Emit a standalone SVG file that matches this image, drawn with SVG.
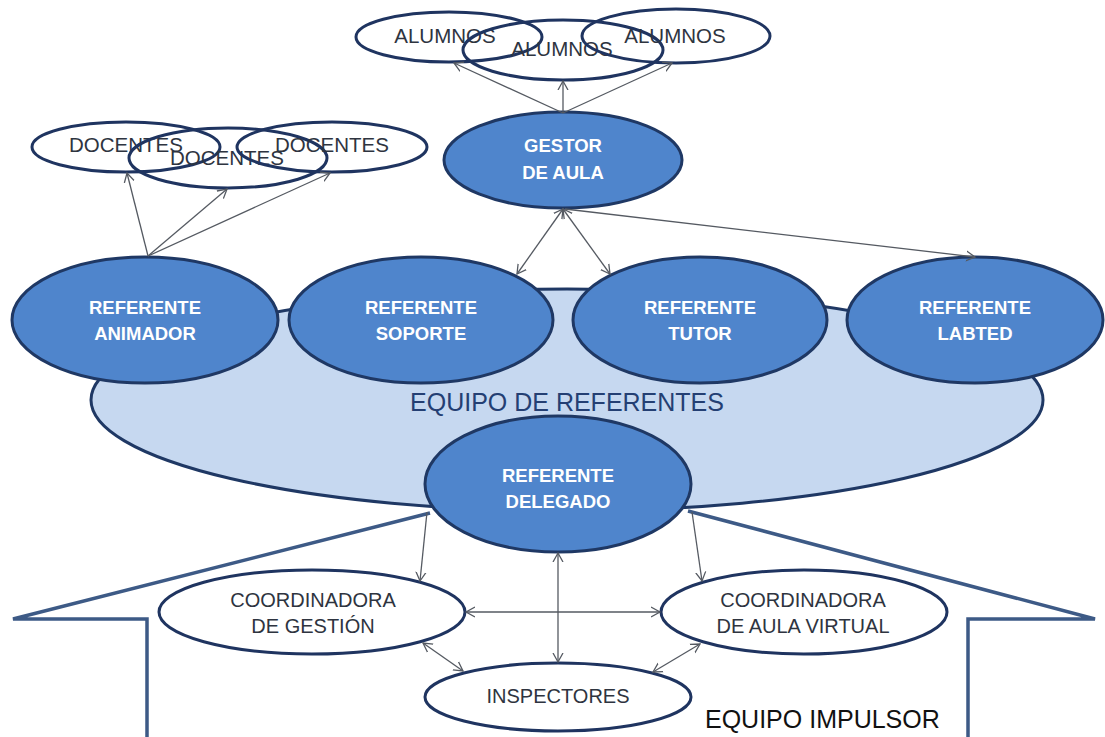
<svg xmlns="http://www.w3.org/2000/svg" width="1105" height="737" viewBox="0 0 1105 737">
<style>
.outline{fill:none;stroke:#1F3460;stroke-width:3}
.white{fill:#FFFFFF;stroke:#1F3460;stroke-width:3}
.blue{fill:#4F85CC;stroke:#1F3864;stroke-width:3}
.bg{fill:#C6D8F0;stroke:#1F3864;stroke-width:3}
.imp{fill:none;stroke:#3D5A86;stroke-width:3.5;stroke-linejoin:miter}
.lbl{font-family:"Liberation Sans",Arial,sans-serif;font-size:20.5px;fill:#2E3440;text-anchor:middle}
.lbls{font-family:"Liberation Sans",Arial,sans-serif;font-size:20px;fill:#2E3440;text-anchor:middle}
.wl{font-family:"Liberation Sans",Arial,sans-serif;font-size:18.5px;font-weight:bold;fill:#FFFFFF;text-anchor:middle}
.title{font-family:"Liberation Sans",Arial,sans-serif;font-size:25px;fill:#243F73;text-anchor:middle}
.imptxt{font-family:"Liberation Sans",Arial,sans-serif;font-size:25px;fill:#111111}
.conn line{stroke:#555A62;stroke-width:1.3}
</style>
<defs>
<marker id="ah" markerWidth="12" markerHeight="12" refX="9" refY="5" orient="auto-start-reverse" markerUnits="userSpaceOnUse" viewBox="0 0 12 10">
<path d="M0,0 L9,5 L0,10" fill="none" stroke="#555A62" stroke-width="1.3"/>
</marker>
</defs>
<rect width="1105" height="737" fill="#FFFFFF"/>

<g id="equipo-referentes">
<ellipse class="bg" cx="567" cy="400" rx="476" ry="111"/>
<text class="title" x="567" y="411">EQUIPO DE REFERENTES</text>
</g>

<g id="equipo-impulsor">
<polyline class="imp" points="147,737 147,619 13,619 430,513"/>
<polyline class="imp" points="968,737 968,619 1095,619 688,511"/>
<text class="imptxt" x="705" y="728">EQUIPO IMPULSOR</text>
</g>

<g id="alumnos-1"><ellipse class="outline" cx="449" cy="37" rx="93" ry="25"/><text class="lbl" x="445" y="43">ALUMNOS</text></g>
<g id="alumnos-2"><ellipse class="outline" cx="563" cy="50" rx="100" ry="30"/><text class="lbl" x="562" y="56">ALUMNOS</text></g>
<g id="alumnos-3"><ellipse class="outline" cx="676" cy="36" rx="94" ry="27"/><text class="lbl" x="675" y="43">ALUMNOS</text></g>

<g id="docentes-1"><ellipse class="outline" cx="126" cy="147" rx="94" ry="25"/><text class="lbl" x="126" y="152">DOCENTES</text></g>
<g id="docentes-2"><ellipse class="outline" cx="228" cy="158" rx="99" ry="30"/><text class="lbl" x="227" y="165">DOCENTES</text></g>
<g id="docentes-3"><ellipse class="outline" cx="332" cy="147" rx="95" ry="25"/><text class="lbl" x="332" y="152">DOCENTES</text></g>

<g id="gestor-aula"><ellipse class="blue" cx="563" cy="160" rx="119" ry="48"/><text class="wl" x="563" y="152">GESTOR</text><text class="wl" x="563" y="179">DE AULA</text></g>

<g id="referente-animador"><ellipse class="blue" cx="145" cy="320" rx="133" ry="63"/><text class="wl" x="145" y="314">REFERENTE</text><text class="wl" x="145" y="340">ANIMADOR</text></g>
<g id="referente-soporte"><ellipse class="blue" cx="421" cy="320" rx="132" ry="63"/><text class="wl" x="421" y="314">REFERENTE</text><text class="wl" x="421" y="340">SOPORTE</text></g>
<g id="referente-tutor"><ellipse class="blue" cx="700" cy="320" rx="127" ry="63"/><text class="wl" x="700" y="314">REFERENTE</text><text class="wl" x="700" y="340">TUTOR</text></g>
<g id="referente-labted"><ellipse class="blue" cx="975" cy="320" rx="128" ry="63"/><text class="wl" x="975" y="314">REFERENTE</text><text class="wl" x="975" y="340">LABTED</text></g>

<g id="referente-delegado"><ellipse class="blue" cx="558" cy="484" rx="133" ry="68"/><text class="wl" x="558" y="482">REFERENTE</text><text class="wl" x="558" y="508">DELEGADO</text></g>

<g id="coordinadora-gestion"><ellipse class="white" cx="312" cy="612" rx="153" ry="42"/><text class="lbls" x="313" y="607">COORDINADORA</text><text class="lbls" x="313" y="633">DE GESTIÓN</text></g>
<g id="coordinadora-aula-virtual"><ellipse class="white" cx="804" cy="612" rx="143" ry="42"/><text class="lbls" x="803" y="607">COORDINADORA</text><text class="lbls" x="803" y="633">DE AULA VIRTUAL</text></g>
<g id="inspectores"><ellipse class="white" cx="558" cy="697" rx="133" ry="34"/><text class="lbls" x="558" y="703">INSPECTORES</text></g>

<g id="connectors" class="conn">
<line x1="563" y1="113" x2="454" y2="63" marker-end="url(#ah)"/>
<line x1="563" y1="113" x2="563" y2="81" marker-end="url(#ah)"/>
<line x1="563" y1="113" x2="672" y2="63" marker-end="url(#ah)"/>
<line x1="148" y1="256" x2="127" y2="173" marker-end="url(#ah)"/>
<line x1="148" y1="256" x2="227" y2="189" marker-end="url(#ah)"/>
<line x1="148" y1="256" x2="330" y2="173" marker-end="url(#ah)"/>
<line x1="563" y1="209" x2="517" y2="274" marker-start="url(#ah)" marker-end="url(#ah)"/>
<line x1="563" y1="209" x2="610" y2="274" marker-start="url(#ah)" marker-end="url(#ah)"/>
<line x1="565" y1="209" x2="975" y2="257" marker-end="url(#ah)"/>
<line x1="427" y1="512" x2="420" y2="581" marker-end="url(#ah)"/>
<line x1="692" y1="512" x2="702" y2="581" marker-end="url(#ah)"/>
<line x1="558" y1="553" x2="558" y2="662" marker-start="url(#ah)" marker-end="url(#ah)"/>
<line x1="466" y1="612" x2="660" y2="612" marker-start="url(#ah)" marker-end="url(#ah)"/>
<line x1="423" y1="643" x2="463" y2="671" marker-start="url(#ah)" marker-end="url(#ah)"/>
<line x1="700" y1="644" x2="653" y2="672" marker-start="url(#ah)" marker-end="url(#ah)"/>
</g>
</svg>
